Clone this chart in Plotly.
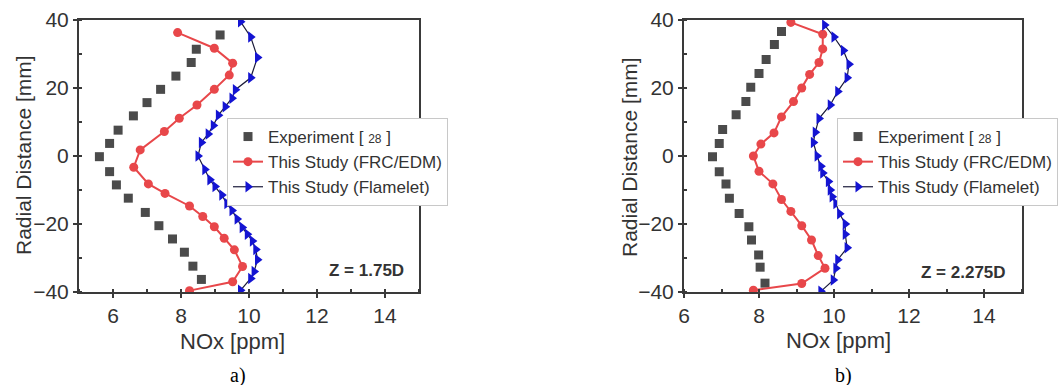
import plotly.graph_objects as go

# ---------------- data: panel a) Z = 1.75D ----------------
exp_y_a = [35.6, 31.4, 27.5, 23.5, 19.6, 15.7, 11.8, 7.6, 3.7, -0.2, -4.6, -8.5, -12.4, -16.6, -20.5, -24.4, -28.3, -32.4, -36.3]
exp_x_a = [9.15, 8.45, 8.3, 7.85, 7.4, 7.0, 6.6, 6.15, 5.9, 5.6, 5.9, 6.1, 6.45, 6.95, 7.35, 7.75, 8.1, 8.35, 8.6]

frc_y_a = [36.3, 31.7, 27.3, 23.8, 19.6, 15.0, 11.1, 7.2, 1.8, -3.3, -8.2, -11.0, -14.7, -17.8, -20.8, -24.2, -27.6, -32.5, -37.0, -39.6]
frc_x_a = [7.9, 8.98, 9.52, 9.42, 8.98, 8.47, 7.95, 7.51, 6.8, 6.61, 7.04, 7.53, 8.25, 8.64, 8.98, 9.27, 9.57, 9.81, 9.52, 8.25]

fla_y_a = [39.5, 35, 29, 23, 19.5, 17, 14.5, 12, 9, 6.5, 4, 0, -4, -7, -9, -11.5, -14, -16, -18.5, -21, -23, -25, -27.5, -30.5, -34, -36, -39.5]
fla_x_a = [9.75, 10.05, 10.25, 10.05, 9.6, 9.5, 9.3, 9.1, 8.95, 8.8, 8.6, 8.5, 8.7, 8.85, 9.0, 9.2, 9.35, 9.5, 9.65, 9.8, 9.95, 10.1, 10.2, 10.25, 10.15, 10.05, 9.75]

# ---------------- data: panel b) Z = 2.275D ----------------
exp_y_b = [36.6, 32.8, 28.4, 24.3, 20.2, 16.0, 12.1, 7.8, 3.7, -0.2, -4.6, -8.2, -12.4, -16.9, -20.8, -24.7, -29.1, -32.7, -37.4]
exp_x_b = [8.6, 8.41, 8.19, 8.0, 7.78, 7.65, 7.39, 7.03, 6.94, 6.76, 6.94, 7.12, 7.21, 7.47, 7.73, 7.8, 7.99, 8.03, 8.16]

frc_y_b = [39.3, 35.8, 31.5, 27.5, 24.0, 20.0, 16.0, 11.5, 6.8, 3.5, 0.0, -4.5, -8.2, -12.8, -16.3, -20.5, -24.7, -29.3, -33.0, -37.5, -39.5]
frc_x_b = [8.85, 9.7, 9.7, 9.6, 9.35, 9.14, 8.92, 8.6, 8.4, 8.05, 7.85, 8.0, 8.37, 8.6, 8.85, 9.14, 9.4, 9.58, 9.76, 9.14, 7.85]

fla_y_b = [38.5, 35, 31, 27, 23, 19, 15, 11, 7, 4, 0, -3, -5, -7.5, -10, -12, -14, -17, -20, -23, -27, -30.5, -33, -36.5, -39.8]
fla_x_b = [9.75, 10.0, 10.25, 10.4, 10.35, 10.1, 9.9, 9.6, 9.5, 9.45, 9.55, 9.65, 9.7, 9.85, 9.9, 9.95, 10.05, 10.15, 10.3, 10.3, 10.35, 10.1, 10.05, 9.98, 9.65]

x_ticks = [6, 8, 10, 12, 14]
y_ticks = [-40, -20, 0, 20, 40]

names = ["Experiment [ <span style='font-size:12px'>28</span> ]",
         "This Study (FRC/EDM)", "This Study (Flamelet)"]

W, H = 1061, 385
FONT = "Liberation Sans, Arial, sans-serif"
AX = "#3a3a3a"
GRAY = "#4b4b4b"
RED = "#e8474a"
BLUE = "#1414d2"

fig = go.Figure()

def add_panel(xa, ya, leg, ex, ey, fx, fy, lx, ly):
    fig.add_trace(go.Scatter(x=ex, y=ey, mode="markers", name=names[0],
                             marker=dict(symbol="square", size=9, color=GRAY),
                             xaxis=xa, yaxis=ya, legend=leg))
    fig.add_trace(go.Scatter(x=fx, y=fy, mode="lines+markers", name=names[1],
                             line=dict(color=RED, width=2),
                             marker=dict(symbol="circle", size=9, color=RED),
                             xaxis=xa, yaxis=ya, legend=leg))
    fig.add_trace(go.Scatter(x=lx, y=ly, mode="lines+markers", name=names[2],
                             line=dict(color="#1b1b3a", width=1.2),
                             marker=dict(symbol="triangle-right", size=10, color=BLUE),
                             xaxis=xa, yaxis=ya, legend=leg))

add_panel("x", "y", "legend", exp_x_a, exp_y_a, frc_x_a, frc_y_a, fla_x_a, fla_y_a)
add_panel("x2", "y2", "legend2", exp_x_b, exp_y_b, frc_x_b, frc_y_b, fla_x_b, fla_y_b)

ydom = [1 - 292 / H, 1 - 20 / H]

def xaxis(dom, rng, anchor):
    return dict(domain=dom, range=rng, anchor=anchor, tickvals=x_ticks,
                showgrid=False, zeroline=False, showline=True, linecolor=AX,
                linewidth=2, mirror=True, ticks="outside", ticklen=4,
                tickcolor=AX, tickwidth=1.5,
                tickfont=dict(family=FONT, size=21, color="#333"),
                minor=dict(dtick=1, ticks="inside", ticklen=3, tickcolor=AX),
                automargin=False)

def yaxis(anchor):
    return dict(domain=ydom, range=[-40, 40], anchor=anchor, tickvals=y_ticks,
                showgrid=False, zeroline=False, showline=True, linecolor=AX,
                linewidth=2, mirror=True, ticks="outside", ticklen=4,
                tickcolor=AX, tickwidth=1.5,
                tickfont=dict(family=FONT, size=21, color="#333"),
                minor=dict(dtick=10, ticks="inside", ticklen=3, tickcolor=AX),
                automargin=False)

leg_common = dict(bgcolor="white", bordercolor="#c8c8c8", borderwidth=1,
                  font=dict(family=FONT, size=17, color="#333"),
                  xanchor="left", yanchor="top", tracegroupgap=0,
                  itemwidth=30)

fig.update_layout(
    width=W, height=H,
    margin=dict(l=0, r=0, t=0, b=0),
    paper_bgcolor="white", plot_bgcolor="white",
    xaxis=xaxis([79 / W, 419 / W], [5, 15], "y"),
    yaxis=yaxis("x"),
    xaxis2=xaxis([684 / W, 1021.5 / W], [6, 15], "y2"),
    yaxis2=yaxis("x2"),
    legend=dict(x=227 / W, y=1 - 118 / H, **leg_common),
    legend2=dict(x=837 / W, y=1 - 118 / H, **leg_common),
)

ann = []
def txt(x, y, s, size, angle=0, family=FONT, bold=False):
    ann.append(dict(x=x / W, y=1 - y / H, xref="paper", yref="paper",
                    text=("<b>%s</b>" % s) if bold else s, showarrow=False,
                    textangle=angle, xanchor="center", yanchor="middle",
                    font=dict(family=family, size=size, color="#333" if family == FONT else "black")))

txt(23, 155, "Radial Distance [mm]", 21, angle=-90)
txt(629, 157, "Radial Distance [mm]", 21, angle=-90)
txt(232, 341, "NOx [ppm]", 22)
txt(838, 340, "NOx [ppm]", 22)
txt(366, 270, "Z = 1.75D", 17, bold=True)
txt(963, 272, "Z = 2.275D", 17, bold=True)
txt(238, 375, "a)", 20, family="Liberation Serif, Times New Roman, serif")
txt(843, 375, "b)", 20, family="Liberation Serif, Times New Roman, serif")
fig.update_layout(annotations=ann)

fig.write_html("out.html")
